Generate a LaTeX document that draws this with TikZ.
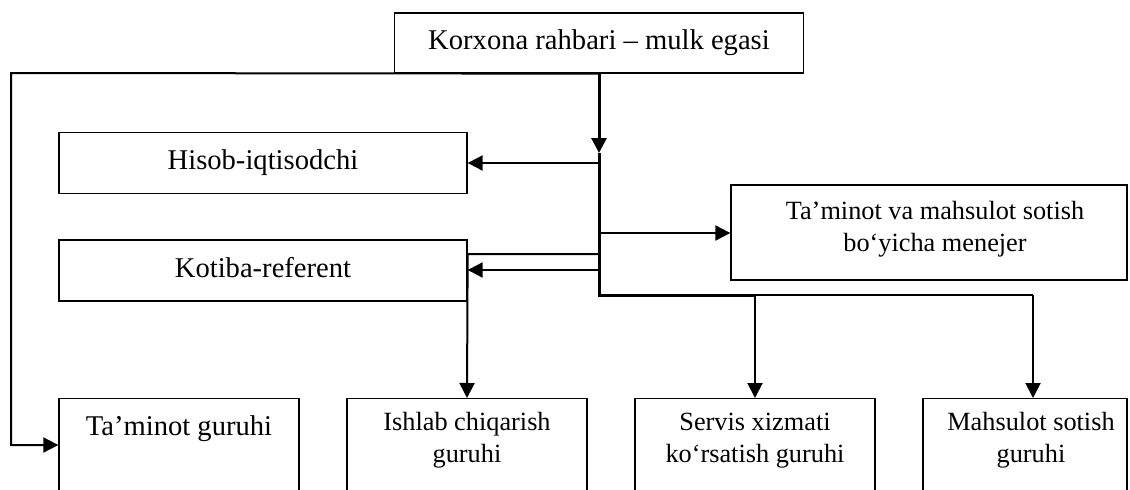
\documentclass[tikz,border=0pt]{standalone}
\usepackage{fontspec}
\setmainfont{Liberation Serif}
\usetikzlibrary{arrows.meta}

\begin{document}
\begin{tikzpicture}[x=1pt, y=-1pt,
  box/.style={draw, line width=1.3pt, inner sep=0pt},
  bigtext/.style={font=\fontsize{28.6}{34}\selectfont},
  smalltext/.style={font=\fontsize{26.3}{32}\selectfont},
  fixline/.style={text height=19.5pt, text depth=6pt},
  tip/.style={-{Triangle[length=15pt, width=15pt]}},
  conn/.style={line width=2pt},
  trunk/.style={line width=3pt}]

\useasboundingbox (0,0) rectangle (1130,490);
\clip (0,0) rectangle (1130,490);

% head of the enterprise
\node[box, bigtext, fixline, minimum width=409pt, minimum height=60pt] (head) at (599,43)
  {Korxona rahbari – mulk egasi};

% staff positions
\node[box, bigtext, fixline, minimum width=408pt, minimum height=61pt] (hisob) at (263,163)
  {Hisob-iqtisodchi};
\node[box, bigtext, fixline, minimum width=408pt, minimum height=61pt] (kotiba) at (263,270.5)
  {Kotiba-referent};
\node[box, minimum width=396pt, minimum height=95pt] (menejer) at (929,232.5) {};
% base anchor of a two-line node sits on its last line
\node[smalltext, align=center, anchor=base] (menejertxt) at (935,251)
  {Ta’minot va mahsulot sotish\\bo‘yicha menejer};

% working groups
\node[box, anchor=north, minimum width=240pt, minimum height=120pt] (g1) at (179,398) {};
\node[bigtext, anchor=base] (g1txt) at (179,435) {Ta’minot guruhi};
\node[box, anchor=north, minimum width=240pt, minimum height=120pt] (g2) at (467,398) {};
\node[smalltext, align=center, anchor=base] (g2txt) at (467,462.7) {Ishlab chiqarish\\guruhi};
\node[box, anchor=north, minimum width=240pt, minimum height=120pt] (g3) at (755,398) {};
\node[smalltext, align=center, anchor=base] (g3txt) at (755,462.7) {Servis xizmati\\ko‘rsatish guruhi};
\node[box, anchor=north, minimum width=204pt, minimum height=120pt] (g4) at (1025,398) {};
\node[smalltext, align=center, anchor=base] (g4txt) at (1031,462.7) {Mahsulot sotish\\guruhi};

% junction points on the main trunk
\coordinate (j0) at (599,153);
\coordinate (jH) at (599,163);
\coordinate (jM) at (599,233);
\coordinate (jK1) at (599,254);
\coordinate (jK2) at (599,270);
\coordinate (jB) at (599,295);
\coordinate (c1) at (755,295);
\coordinate (c2) at (1033,295);
\coordinate (L1) at (11,73);
\coordinate (L2) at (11,445);

% main trunk
\draw[trunk, tip] (head.south) -- (j0);
\draw[trunk] (j0) -- (jB) -- (c1);
\draw[conn] (c1) -- (c2);
\draw[conn, tip] (c1) -- (g3.north);
\draw[conn, tip] (c2) -- (c2 |- g4.north);

% branches
\draw[conn, tip] (jH) -- (jH -| hisob.east);
\draw[conn, tip] (jM) -- (jM -| menejer.west);
\draw[conn, tip] (jK1) -- (jK1 -| kotiba.east) -- (g2.north);
\draw[conn, tip] (jK2) -- (jK2 -| kotiba.east);

% outer line to the supply group
\draw[conn, tip] (head.south) -- (L1) -- (L2) -- (L2 -| g1.west);
\end{tikzpicture}
\end{document}
